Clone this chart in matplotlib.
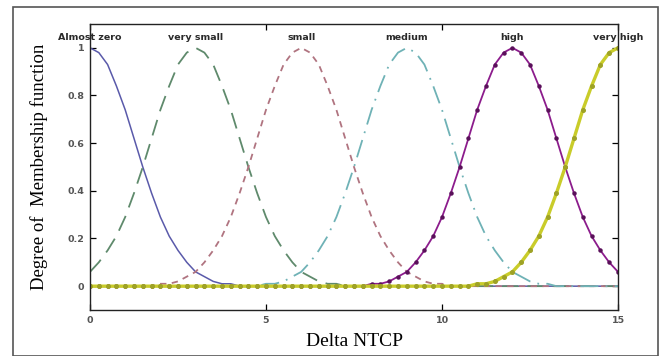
import numpy as np
import matplotlib.pyplot as plt
from matplotlib.patches import Rectangle

# Delta NTCP grid (step 0.25) and membership values
x = np.linspace(0, 15, 61)

almost_zero = [1, .98, .93, .84, .74, .62, .50, .39, .29, .21, .15, .10, .06, .04, .02, .01, .01] + [0] * 44
very_small = [.06, .10, .15, .21, .29, .39, .50, .62, .74, .84, .93, .98, 1, .98, .93, .84, .74, .62, .50,
              .39, .29, .21, .15, .10, .06, .04, .02, .01, .01] + [0] * 32
small = [0] * 8 + [.01, .01, .02, .04, .06, .10, .15, .21, .29, .39, .50, .62, .74, .84, .93, .98,
                   1, .98, .93, .84, .74, .62, .50, .39, .29, .21, .15, .10, .06, .04, .02, .01, .01] + [0] * 20
medium = [0] * 20 + [.01, .01, .02, .04, .06, .10, .15, .21, .29, .39, .50, .62, .74, .84, .93, .98,
                     1, .98, .93, .84, .74, .62, .50, .39, .29, .21, .15, .10, .06, .04, .02, .01, .01] + [0] * 8
high = [0] * 32 + [.01, .01, .02, .04, .06, .10, .15, .21, .29, .39, .50, .62, .74, .84, .93, .98,
                   1, .98, .93, .84, .74, .62, .50, .39, .29, .21, .15, .10, .06]
very_high = [0] * 44 + [.01, .01, .02, .04, .06, .10, .15, .21, .29, .39, .50, .62, .74, .84, .93, .98, 1]

set_names = ['Almost zero', 'very small', 'small', 'medium', 'high', 'very high']
set_centres = [0, 3, 6, 9, 12, 15]

fig = plt.figure(figsize=(6.61, 3.56), dpi=100)
fig.patches.append(Rectangle((13 / 661, 0), 645 / 661, 349 / 356, transform=fig.transFigure,
                             fill=False, edgecolor='#555555', linewidth=1.2))
ax = fig.add_axes([90 / 661, 46 / 356, 528 / 661, 286 / 356])

ax.plot(x, almost_zero, color='#5a5aaa', lw=1.1)
ax.plot(x, very_small, color='#5f8a6c', lw=1.3, dashes=(9, 5))
ax.plot(x, small, color='#b07480', lw=1.3, dashes=(3.5, 3))
ax.plot(x, medium, color='#6fb2b6', lw=1.3, dashes=(10, 4, 1, 4))
ax.plot(x, high, color='#8c1c8c', lw=1.3, marker='o', ms=2.2, mfc='#5a105a', mec='#5a105a')
ax.plot(x, very_high, color='#c9cc2a', lw=2.4, marker='o', ms=2.6, mfc='#9ea226', mec='#9ea226')

for name, c in zip(set_names, set_centres):
    ax.text(c, 1.045, name, ha='center', va='center', fontsize=6.8, color='#2a2a2a', fontweight='bold')

ax.set_xlim(0, 15)
ax.set_ylim(-0.1, 1.1)
ax.set_xticks([0, 5, 10, 15])
ax.set_yticks([0, 0.2, 0.4, 0.6, 0.8, 1])
ax.set_yticklabels(['0', '0.2', '0.4', '0.6', '0.8', '1'])
ax.tick_params(direction='in', top=True, right=True, labelsize=6.8, labelcolor='#555555',
               length=4, width=0.9, pad=4)
for lbl in ax.get_xticklabels() + ax.get_yticklabels():
    lbl.set_fontweight('bold')
for s in ax.spines.values():
    s.set_color('#222222')
    s.set_linewidth(1.0)

ax.set_xlabel('Delta NTCP', family='Liberation Serif', fontsize=14, labelpad=6)
ax.set_ylabel('Degree of  Membership function', family='Liberation Serif', fontsize=13.5, labelpad=14)

fig.savefig('out.png', dpi=100)
